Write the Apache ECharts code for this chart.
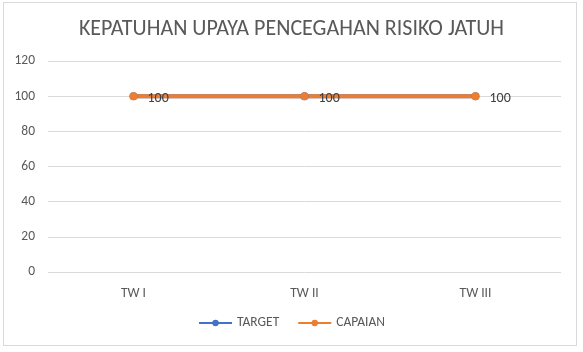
<!DOCTYPE html>
<html><head><meta charset="utf-8">
<script src="https://cdn.jsdelivr.net/npm/echarts@6/dist/echarts.min.js"></script>
<style>
html,body{margin:0;padding:0;background:#fff;}
#frame{position:absolute;left:3px;top:2px;width:574px;height:344px;border:1px solid #d9d9d9;box-sizing:border-box;}
#c{position:absolute;left:0;top:0;width:583px;height:352px;}
</style></head>
<body><div id="frame"></div><div id="c"></div>
<script>
const categories = ['TW I', 'TW II', 'TW III'];
const target = [100, 100, 100];
const capaian = [100, 100, 100];
const chart = echarts.init(document.getElementById('c'));
const font = 'Calibri, Carlito, "Open Sans", "Liberation Sans", sans-serif';
chart.setOption({
  animation: false,
  title: { text: 'KEPATUHAN UPAYA PENCEGAHAN RISIKO JATUH', left: 'center', top: 13,
    textStyle: { fontFamily: font, fontSize: 22, fontWeight: 'normal', color: '#595959' } },
  grid: { left: 48, right: 22, top: 61, bottom: 80 },
  legend: { bottom: 17, left: 'center', itemWidth: 33, itemHeight: 8, itemGap: 18,
    textStyle: { fontFamily: font, fontSize: 13.5, color: '#595959' },
    data: ['TARGET', 'CAPAIAN'] },
  xAxis: { type: 'category', data: categories, boundaryGap: true,
    axisLine: { show: false }, axisTick: { show: false },
    axisLabel: { fontFamily: font, fontSize: 13.5, color: '#595959', margin: 15 } },
  yAxis: { type: 'value', min: 0, max: 120, interval: 20,
    axisLabel: { fontFamily: font, fontSize: 13.5, color: '#595959', margin: 13 },
    splitLine: { lineStyle: { color: '#d9d9d9', width: 1 } } },
  series: [
    { name: 'TARGET', type: 'line', data: target, symbol: 'circle', symbolSize: 8,
      lineStyle: { color: '#4472C4', width: 4 }, itemStyle: { color: '#4472C4' } },
    { name: 'CAPAIAN', type: 'line', data: capaian, symbol: 'circle', symbolSize: 8,
      lineStyle: { color: '#ED7D31', width: 4 }, itemStyle: { color: '#ED7D31' },
      label: { show: true, position: 'right', distance: 10, offset: [0, 2],
        fontFamily: font, fontSize: 14, color: '#404040' } }
  ]
});
</script></body></html>
